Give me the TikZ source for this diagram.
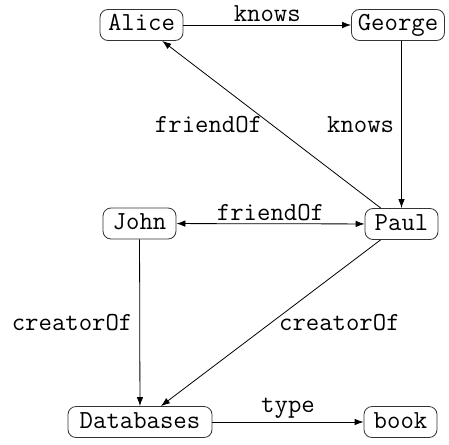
\documentclass[tikz,border=0pt]{standalone}
\usetikzlibrary{arrows.meta}
\begin{document}
\begin{tikzpicture}[x=1pt,y=-1pt,
  ent/.style={draw=black!80, line width=0.8pt, rounded corners=8pt, minimum height=31pt, inner xsep=3pt, inner ysep=0pt, font=\ttfamily\fontsize{26}{28}\selectfont, text height=16pt, text depth=4pt},
  rel/.style={line width=0.8pt, -{Latex[length=9pt,width=6.5pt]}},
  lbl/.style={font=\ttfamily\fontsize{26}{28}\selectfont, inner sep=7pt}]
\useasboundingbox (0,0) rectangle (449,444);
\node[ent, minimum width=83pt] (Alice) at (141.5,25) {Alice};
\node[ent, minimum width=93pt] (George) at (398,25) {George};
\node[ent, minimum width=73pt] (John) at (139.5,223.5) {John};
\node[ent, minimum width=73pt] (Paul) at (401.5,224) {Paul};
\node[ent, minimum width=144pt] (Databases) at (140,422) {Databases};
\node[ent, minimum width=73pt] (book) at (400.5,422) {book};

\draw[rel] (Alice) -- node[lbl, above, inner sep=3pt] {knows} (George);
\draw[rel] (George.south -| Paul.north) -- node[lbl, left] {knows} (Paul.north);
\draw[rel] (Paul) -- node[lbl, left, inner sep=9pt] {friendOf} (Alice);
\draw[rel, {Latex[length=9pt,width=6.5pt]}-{Latex[length=9pt,width=6.5pt]}] (John) -- node[lbl, above, inner sep=3pt] {friendOf} (Paul);
\draw[rel] (John) -- node[lbl, left] {creatorOf} (Databases);
\draw[rel] (Paul) -- node[lbl, right, inner sep=8pt] {creatorOf} (Databases);
\draw[rel] (Databases) -- node[lbl, above, inner sep=3pt] {type} (book);
\end{tikzpicture}
\end{document}
